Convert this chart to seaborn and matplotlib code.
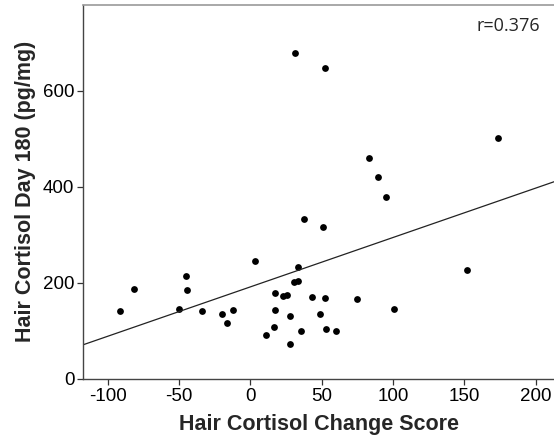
import matplotlib
matplotlib.use("Agg")
import matplotlib.pyplot as plt
import seaborn as sns
import pandas as pd

change_score = [31.3, 52.4, 173.7, 83.0, 89.1, 94.9, 37.2, 51.2, 3.1, 33.2,
                151.5, -45.1, 30.2, 33.2, -81.6, -44.4, 17.3, 22.7, 25.5, 43.5,
                52.4, 74.6, -91.4, -50.2, -33.9, -11.9, 17.3, 100.3, -20.1, 49.1,
                27.8, -16.1, 16.8, 53.1, 59.9, 35.6, 10.8, 27.8]
cortisol_d180 = [678, 648, 502, 459, 420, 379, 332, 315, 246, 232,
                 226, 214, 202, 204, 186, 184, 178, 172, 175, 171,
                 169, 165, 142, 146, 140, 143, 144, 146, 134, 134,
                 130, 117, 108, 104, 100, 99, 90, 72]
x_ticks = [-100, -50, 0, 50, 100, 150, 200]
y_ticks = [0, 200, 400, 600]
r_label = "r=0.376"

df = pd.DataFrame({"x": change_score, "y": cortisol_d180})

sns.set_style("white")
plt.rcParams["font.family"] = ["Liberation Sans", "DejaVu Sans"]
plt.rcParams["axes.unicode_minus"] = False

fig = plt.figure(figsize=(5.54, 4.46), dpi=100)
ax = fig.add_axes([83.3 / 554, 67.3 / 446, 1 - 83.3 / 554 + 0.002, (378.7 - 5) / 446])
ax.set_xlim(-117.1, 213.5)
ax.set_ylim(0, 778.5)

sns.regplot(data=df, x="x", y="y", ax=ax, ci=None, truncate=False,
            scatter_kws=dict(s=24, color="black", linewidths=0, alpha=1),
            line_kws=dict(color="#222222", lw=0.9))

ax.set_xlim(-117.1, 213.5)
ax.set_ylim(0, 778.5)
ax.set_xticks(x_ticks)
ax.set_yticks(y_ticks)
ax.tick_params(axis="both", direction="out", length=4.5, width=0.9,
               color="#333333", labelsize=13.5, pad=2, labelcolor="black",
               bottom=True, left=True)
ax.set_xlabel("Hair Cortisol Change Score", fontsize=15.5, fontweight="bold", labelpad=7)
ax.set_ylabel("Hair Cortisol Day 180 (pg/mg)", fontsize=15.5, fontweight="bold", labelpad=5)

for side in ["left", "bottom"]:
    ax.spines[side].set_color("#444444")
    ax.spines[side].set_linewidth(1.0)
ax.spines["top"].set_color("#999999")
ax.spines["top"].set_linewidth(1.2)
ax.spines["right"].set_visible(False)

ax.text(476 / 554, 1 - 31 / 446, r_label, transform=fig.transFigure,
        fontsize=13, family=["Open Sans", "DejaVu Sans"], va="baseline", ha="left")

fig.savefig("out.png", dpi=100)
